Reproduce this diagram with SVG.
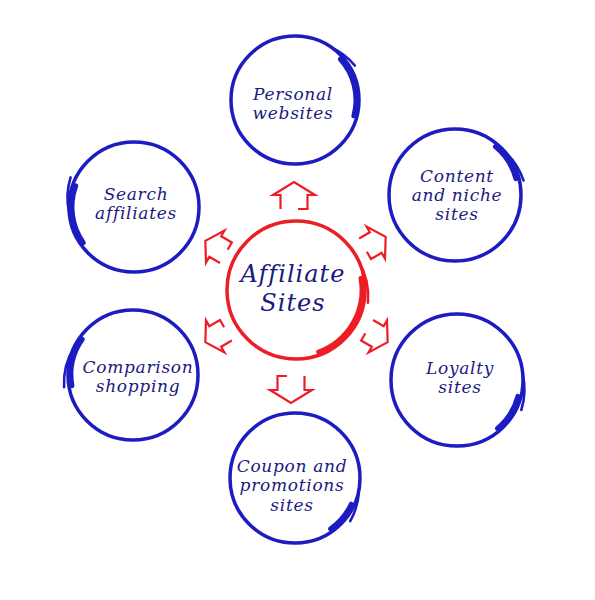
<svg xmlns="http://www.w3.org/2000/svg" width="595" height="600" viewBox="0 0 595 600">
<style>
.ring{fill:none;stroke:#1c1cc2;stroke-width:3.5}
.tail{fill:none;stroke:#1c1cc2;stroke-width:5;stroke-linecap:round}
.flare{fill:none;stroke:#1c1cc2;stroke-width:2.6;stroke-linecap:round}
.rring{fill:none;stroke:#ee1c24;stroke-width:3.5}
.rtail{fill:none;stroke:#ee1c24;stroke-width:5;stroke-linecap:round}
.rflare{fill:none;stroke:#ee1c24;stroke-width:2.6;stroke-linecap:round}
.lbl{font-family:"DejaVu Serif","Liberation Serif",serif;font-style:italic;font-size:17px;letter-spacing:0.7px;fill:#1a1a80;text-anchor:middle}
.big{font-size:24px;letter-spacing:1px}
.arrow{fill:none;stroke:#ee1c24;stroke-width:2.2;stroke-linejoin:miter}
</style>
<defs>
<path id="arr" d="M-13,4 L-13,13.5 L1,13.5 L1,21 L14,0 L1,-21 L1,-13.5 L-13,-13.5" vector-effect="non-scaling-stroke"/>
</defs>
<rect width="595" height="600" fill="#ffffff"/>

<g id="connectors" class="arrow">
<use href="#arr" transform="translate(294,196) rotate(-90)"/>
<use href="#arr" transform="translate(291,389) rotate(90)"/>
<use href="#arr" transform="translate(375,243) rotate(-30) scale(.88)"/>
<use href="#arr" transform="translate(377,336) rotate(30) scale(.88)"/>
<use href="#arr" transform="translate(216,336) rotate(150) scale(.88)"/>
<use href="#arr" transform="translate(216,247) rotate(-150) scale(.88)"/>
</g>

<g id="center">
<circle class="rring" cx="296" cy="290" r="69"/>
<path class="rtail" d="M361,278.5 A66,66 0 0 1 318.6,352"/>
<path class="rflare" d="M358.5,260.8 A71,71 0 0 1 367.9,302.7"/>
<text class="lbl big" x="293" y="282">Affiliate</text>
<text class="lbl big" x="293" y="311">Sites</text>
</g>

<g id="personal">
<circle class="ring" cx="295" cy="100" r="64"/>
<path class="tail" d="M340.3,59.2 A61,61 0 0 1 353.9,115.8"/>
<path class="flare" d="M331.7,47.6 A66,66 0 0 1 354.8,65.5"/>
<text class="lbl" x="293" y="100">Personal</text>
<text class="lbl" x="293" y="119">websites</text>
</g>

<g id="search">
<circle class="ring" cx="134" cy="207" r="65"/>
<path class="tail" d="M75.7,185.8 A62,62 0 0 0 83.2,242.6"/>
<path class="flare" d="M69.2,212.7 A67,67 0 0 1 70.6,177.4"/>
<text class="lbl" x="136" y="200">Search</text>
<text class="lbl" x="136" y="219">affiliates</text>
</g>

<g id="content">
<circle class="ring" cx="455" cy="195" r="66"/>
<path class="tail" d="M495.5,146.7 A63,63 0 0 1 515.9,178.7"/>
<path class="flare" d="M505.6,152.6 A68,68 0 0 1 523.5,180.4"/>
<text class="lbl" x="457" y="182">Content</text>
<text class="lbl" x="457" y="201">and niche</text>
<text class="lbl" x="457" y="220">sites</text>
</g>

<g id="comparison">
<circle class="ring" cx="133" cy="375" r="65"/>
<path class="tail" d="M82.2,339.4 A62,62 0 0 0 71.9,385.8"/>
<path class="flare" d="M74.1,347.5 A67,67 0 0 0 64.1,387.2"/>
<text class="lbl" x="138" y="373">Comparison</text>
<text class="lbl" x="138" y="392">shopping</text>
</g>

<g id="loyalty">
<circle class="ring" cx="457" cy="380" r="66"/>
<path class="tail" d="M517.9,396.3 A63,63 0 0 1 497.5,428.3"/>
<path class="flare" d="M522.7,374.2 A68,68 0 0 1 521.3,410"/>
<text class="lbl" x="460" y="374">Loyalty</text>
<text class="lbl" x="460" y="393">sites</text>
</g>

<g id="coupon">
<circle class="ring" cx="295" cy="478" r="65"/>
<path class="tail" d="M351.2,504.2 A62,62 0 0 1 330.6,528.8"/>
<path class="flare" d="M359,489.3 A67,67 0 0 1 350.2,521.1"/>
<text class="lbl" x="292" y="472">Coupon and</text>
<text class="lbl" x="292" y="491">promotions</text>
<text class="lbl" x="292" y="511">sites</text>
</g>
</svg>
